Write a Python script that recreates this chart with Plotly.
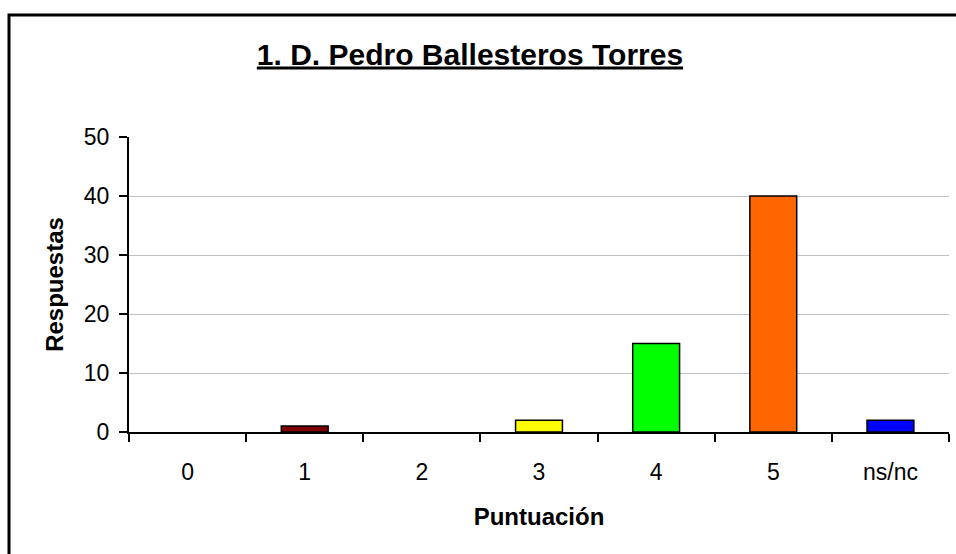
import plotly.graph_objects as go

categorias = ['0', '1', '2', '3', '4', '5', 'ns/nc']
respuestas = [0, 1, 0, 2, 15, 40, 2]
colores = ['#FFFFFF', '#800000', '#FFFFFF', '#FFFF00', '#00FF00', '#FF6600', '#0000FF']

titulo = '<u>1. D. Pedro Ballesteros Torres</u>'
fuente = 'Liberation Sans, Arial, sans-serif'

# las barras con valor 0 no se ven en el original
bordes = ['black' if v > 0 else 'rgba(0,0,0,0)' for v in respuestas]

fig = go.Figure()
fig.add_trace(go.Bar(
    x=categorias, y=respuestas,
    marker=dict(color=colores, line=dict(color=bordes, width=1.5)),
    width=0.4,
))

fig.update_layout(
    width=956, height=554,
    margin=dict(l=129, r=7, t=137, b=122),
    paper_bgcolor='white', plot_bgcolor='white',
    showlegend=False,
    font=dict(family=fuente, color='black', size=23),
    title=dict(text='<b>' + titulo + '</b>', x=0.4916, xanchor='center',
               y=1 - 54 / 554, yanchor='middle',
               font=dict(family=fuente, size=30, color='black')),
)

fig.update_xaxes(
    type='category',
    showline=True, linecolor='black', linewidth=2,
    ticks='outside', tickson='boundaries', ticklen=8, tickwidth=2, tickcolor='black',
    tickfont=dict(size=23),
    ticklabelstandoff=18,
    showgrid=False,
    title=dict(text='<b>Puntuación</b>', font=dict(size=24), standoff=25),
    automargin=False,
)
fig.update_yaxes(
    range=[0, 50], dtick=10,
    showline=True, linecolor='black', linewidth=2,
    ticks='outside', ticklen=8, tickwidth=2, tickcolor='black',
    tickfont=dict(size=23),
    ticklabelstandoff=5,
    showgrid=True, gridcolor='#C0C0C0', gridwidth=1,
    zeroline=False,
    title=dict(text='<b>Respuestas</b>', font=dict(size=24), standoff=13),
    automargin=False,
)

# marco exterior del gráfico
x_izq = (9 - 129) / 820
y_sup = (432 - 15) / 295
fig.add_shape(type='rect', xref='paper', yref='paper',
              x0=x_izq, x1=1.05, y0=-0.5, y1=y_sup,
              line=dict(color='black', width=3), fillcolor='rgba(0,0,0,0)')

fig.write_html('out.html', config={'displayModeBar': False},
               post_script="document.body.style.margin='0';")
